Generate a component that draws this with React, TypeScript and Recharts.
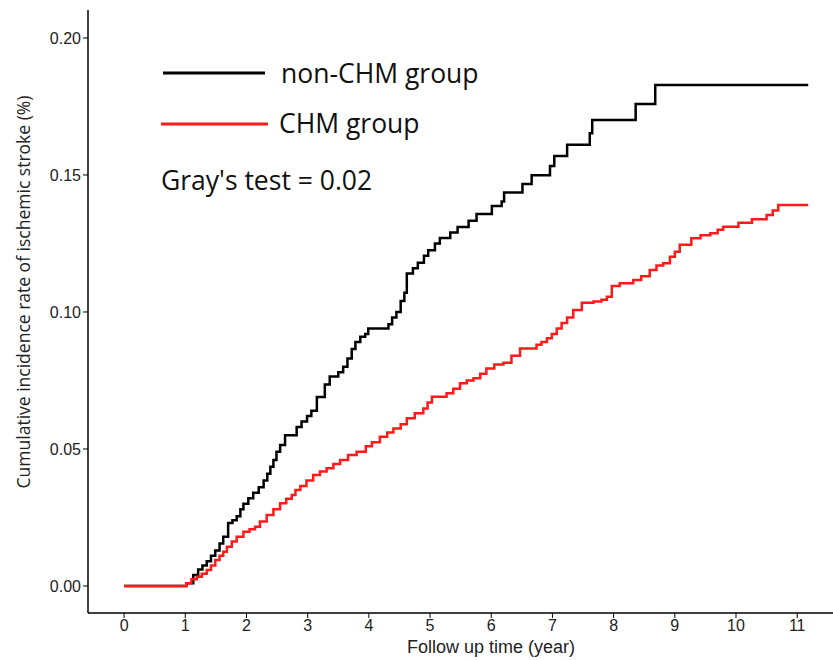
import React from "react";
import { LineChart, Line, XAxis, YAxis } from "recharts";

// follow-up time (year) at each step, and cumulative incidence after that step
const nonChmTime = [
  0, 1.02, 1.13, 1.21, 1.28, 1.35, 1.42, 1.49, 1.56, 1.62, 1.7, 1.77, 1.84, 1.9, 1.95, 2.03, 2.11, 2.2,
  2.28, 2.34, 2.39, 2.44, 2.49, 2.55, 2.63, 2.82, 2.9, 2.99, 3.06, 3.15, 3.28, 3.36, 3.5, 3.58, 3.65,
  3.72, 3.78, 3.86, 3.94, 3.99, 4.32, 4.38, 4.45, 4.52, 4.58, 4.62, 4.72, 4.8, 4.9, 4.97, 5.08, 5.16,
  5.33, 5.45, 5.63, 5.76, 6.01, 6.17, 6.21, 6.51, 6.66, 6.96, 7.03, 7.24, 7.61, 7.65, 8.36, 8.68, 11.18,
];
const nonChmRate = [
  0, 0.001, 0.004, 0.006, 0.0075, 0.009, 0.011, 0.013, 0.0155, 0.018, 0.023, 0.024, 0.0255, 0.028, 0.03,
  0.032, 0.034, 0.036, 0.0385, 0.041, 0.0435, 0.046, 0.049, 0.0515, 0.055, 0.058, 0.06, 0.062, 0.064,
  0.069, 0.0735, 0.0765, 0.078, 0.08, 0.083, 0.0865, 0.089, 0.091, 0.092, 0.094, 0.0955, 0.098, 0.1,
  0.104, 0.107, 0.114, 0.116, 0.118, 0.1205, 0.1225, 0.125, 0.127, 0.129, 0.131, 0.1333, 0.1358, 0.1387,
  0.1403, 0.1436, 0.1467, 0.1499, 0.1533, 0.1569, 0.161, 0.1652, 0.1701, 0.1759, 0.1828, 0.1828,
];

const chmTime = [
  0, 1.02, 1.1, 1.19, 1.27, 1.35, 1.42, 1.49, 1.56, 1.62, 1.68, 1.76, 1.84, 1.95, 2.05, 2.14, 2.22, 2.33,
  2.44, 2.55, 2.65, 2.74, 2.8, 2.88, 2.98, 3.09, 3.2, 3.31, 3.42, 3.53, 3.66, 3.8, 3.95, 4.05, 4.18, 4.3,
  4.4, 4.52, 4.62, 4.75, 4.89, 4.96, 5.03, 5.27, 5.38, 5.49, 5.6, 5.71, 5.82, 5.92, 6.05, 6.2, 6.33,
  6.47, 6.74, 6.82, 6.91, 6.99, 7.07, 7.15, 7.24, 7.34, 7.48, 7.67, 7.8, 7.89, 7.97, 8.1, 8.32, 8.45,
  8.59, 8.7, 8.81, 8.92, 9.0, 9.08, 9.27, 9.42, 9.58, 9.7, 9.79, 10.04, 10.26, 10.5, 10.6, 10.69, 11.18,
];
const chmRate = [
  0, 0.001, 0.0025, 0.0034, 0.0045, 0.0058, 0.0075, 0.0095, 0.011, 0.0125, 0.0143, 0.0162, 0.018,
  0.0198, 0.0207, 0.0216, 0.0235, 0.0259, 0.028, 0.0302, 0.0318, 0.0332, 0.035, 0.0365, 0.0385, 0.0405,
  0.0418, 0.043, 0.0445, 0.046, 0.0478, 0.049, 0.051, 0.0525, 0.0545, 0.056, 0.0575, 0.059, 0.0612,
  0.063, 0.0648, 0.067, 0.0691, 0.0703, 0.072, 0.074, 0.075, 0.0758, 0.0775, 0.0794, 0.0808, 0.0815,
  0.084, 0.0867, 0.088, 0.089, 0.0904, 0.092, 0.094, 0.096, 0.098, 0.1007, 0.1034, 0.1038, 0.1045,
  0.1056, 0.1095, 0.1105, 0.1117, 0.113, 0.1153, 0.117, 0.1178, 0.1202, 0.122, 0.1245, 0.1269, 0.128,
  0.1287, 0.13, 0.1311, 0.1326, 0.1338, 0.1354, 0.137, 0.139, 0.139,
];

const xTicks = [0, 1, 2, 3, 4, 5, 6, 7, 8, 9, 10, 11];
const yTicks = [0, 0.05, 0.1, 0.15, 0.2];

const nonChmData = nonChmTime.map((t, i) => ({ t, v: nonChmRate[i] }));
const chmData = chmTime.map((t, i) => ({ t, v: chmRate[i] }));

const tickStyle = { fontFamily: "Liberation Sans, Arial, sans-serif", fontSize: 16, fill: "#222" };
const noteFont = "Open Sans, sans-serif";

export default function App() {
  return (
    <div style={{ position: "absolute", left: 0, top: 0, width: 833, height: 660, background: "#fff" }}>
      <LineChart width={833} height={660} margin={{ top: 10, right: 0, bottom: 0, left: 0 }}>
        <XAxis
          type="number"
          dataKey="t"
          domain={[-0.59, 11.585]}
          ticks={xTicks}
          allowDataOverflow
          height={47}
          tick={tickStyle}
          tickSize={5}
          axisLine={{ stroke: "#000", strokeWidth: 1.5 }}
          tickLine={{ stroke: "#000" }}
          label={(p: any) => (
            <text
              x={491}
              y={p.viewBox.y + 40}
              textAnchor="middle"
              style={{ fontFamily: "Liberation Sans, Arial, sans-serif", fontSize: 18, fill: "#222" }}
            >
              Follow up time (year)
            </text>
          )}
        />
        <YAxis
          type="number"
          dataKey="v"
          domain={[-0.00985, 0.2102]}
          ticks={yTicks}
          allowDataOverflow
          width={88}
          tick={tickStyle}
          tickSize={5}
          tickFormatter={(v: number) => v.toFixed(2)}
          axisLine={{ stroke: "#000", strokeWidth: 1.5 }}
          tickLine={{ stroke: "#000" }}
          label={() => {
            const cy = 292;
            return (
              <text
                x={30}
                y={cy}
                transform={`rotate(-90 30 ${cy})`}
                textAnchor="middle"
                style={{ fontFamily: noteFont, fontSize: 17.5, fill: "#222" }}
              >
                Cumulative incidence rate of ischemic stroke (%)
              </text>
            );
          }}
        />
        <Line
          data={nonChmData}
          dataKey="v"
          type="stepAfter"
          stroke="#000"
          strokeWidth={2.5}
          dot={false}
          isAnimationActive={false}
        />
        <Line
          data={chmData}
          dataKey="v"
          type="stepAfter"
          stroke="#ff1a1a"
          strokeWidth={2.5}
          dot={false}
          isAnimationActive={false}
        />
      </LineChart>
      <svg width={833} height={660} style={{ position: "absolute", left: 0, top: 0, pointerEvents: "none" }}>
        <line x1={163} y1={73} x2={265} y2={73} stroke="#000" strokeWidth={3} />
        <text x={281} y={83} style={{ fontFamily: noteFont, fontSize: 26.5, fill: "#111" }}>
          non-CHM group
        </text>
        <line x1={161} y1={124} x2={268} y2={124} stroke="#ff1a1a" strokeWidth={3} />
        <text x={279} y={133} style={{ fontFamily: noteFont, fontSize: 26.5, fill: "#111" }}>
          CHM group
        </text>
        <text x={161} y={190} style={{ fontFamily: noteFont, fontSize: 26.5, fill: "#111" }}>
          Gray's test = 0.02
        </text>
      </svg>
    </div>
  );
}
